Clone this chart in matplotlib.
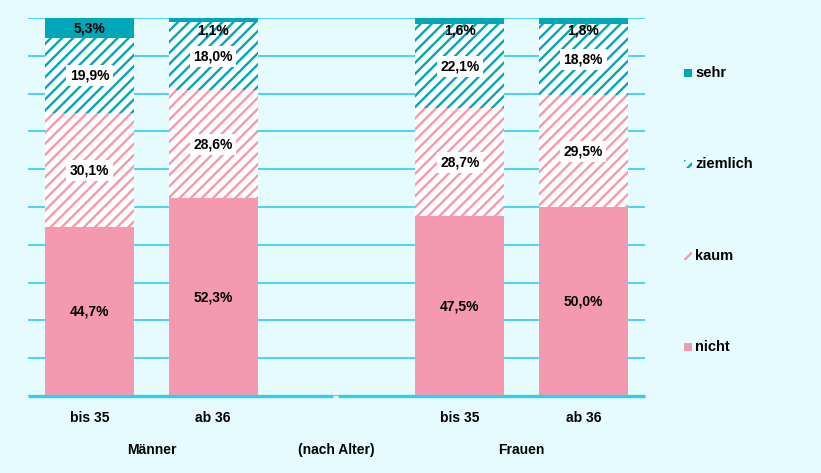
import matplotlib
matplotlib.use("Agg")
import matplotlib.pyplot as plt
from matplotlib.patches import Rectangle
import numpy as np

plt.rcParams['font.family'] = ['Liberation Sans', 'DejaVu Sans']
plt.rcParams['hatch.linewidth'] = 1.7

# ---- data ----
categories = ["bis 35", "ab 36", "", "bis 35", "ab 36"]
groups = ["Männer", "(nach Alter)", "Frauen"]
series = ["nicht", "kaum", "ziemlich", "sehr"]
nicht = [44.7, 52.3, np.nan, 47.5, 50.0]
kaum = [30.1, 28.6, np.nan, 28.7, 29.5]
ziemlich = [19.9, 18.0, np.nan, 22.1, 18.8]
sehr = [5.3, 1.1, np.nan, 1.6, 1.8]

PINK = "#F599B0"
TEAL = "#00A7B8"
BG = "#E6FBFD"
GRID = "#33CCF5"

fig = plt.figure(figsize=(8.21, 4.73), dpi=100)
fig.patch.set_facecolor(BG)
ax = fig.add_axes([28/821, 1-396/473, 617/821, 378/473])
ax.set_facecolor(BG)

x = np.arange(len(categories))
w = 0.72
vals = [nicht, kaum, ziemlich, sehr]
styles = [
    dict(color=PINK, hatch=None, fc=PINK),
    dict(color=PINK, hatch="///", fc="white"),
    dict(color=TEAL, hatch="///", fc="white"),
    dict(color=TEAL, hatch=None, fc=TEAL),
]
bottom = np.zeros(len(categories))
for v, st, name in zip(vals, styles, series):
    v = np.array(v, dtype=float)
    vv = np.nan_to_num(v)
    ax.bar(x, vv, w, bottom=bottom, facecolor=st['fc'], edgecolor=st['color'],
           hatch=st['hatch'], linewidth=0, zorder=3)
    for xi, val, b in zip(x, v, bottom):
        if np.isnan(val):
            continue
        txt = f"{val:.1f}%".replace(".", ",")
        if name == "sehr" and val < 3:
            y = 100 - 3.2
            bbox = None
        else:
            y = b + val / 2
            bbox = dict(boxstyle="square,pad=0.25", fc="white", ec="none") if name in ("kaum", "ziemlich") else None
        ax.text(xi, y, txt, ha="center", va="center", fontsize=10, fontweight="bold",
                bbox=bbox, zorder=5)
    bottom = bottom + vv

ax.set_xlim(-0.5, len(categories) - 0.5)
ax.set_ylim(0, 100)
ax.set_yticks(np.arange(0, 101, 10))
ax.yaxis.grid(True, color=GRID, linewidth=1.2, zorder=0)
ax.set_axisbelow(True)
ax.tick_params(axis="y", length=0, labelleft=False)
ax.tick_params(axis="x", length=0, pad=11)
for s in ax.spines.values():
    s.set_visible(False)
ax.set_xticks(x)
ax.set_xticklabels(categories, fontsize=10, fontweight="bold")

# broken baseline
tr = ax.get_xaxis_transform()
ax.plot([-0.5, 1.97], [0, 0], color=GRID, lw=2.4, transform=tr, clip_on=False, zorder=4, solid_capstyle="butt")
ax.plot([2.015, 4.5], [0, 0], color=GRID, lw=2.4, transform=tr, clip_on=False, zorder=4, solid_capstyle="butt")

# group labels
gpos = [0.5, 2.0, 3.5]
for gp, g in zip(gpos, groups):
    ax.text(gp, -0.143, g, transform=tr, ha="center", va="center", fontsize=10, fontweight="bold")

# legend (manual)
leg_y = [73, 164, 256, 347]
leg_styles = [styles[3], styles[2], styles[1], styles[0]]
for yy, name, st in zip(leg_y, series[::-1], leg_styles):
    fy = 1 - yy / 473
    r = Rectangle((684/821, fy - 4/473), 8/821, 8/473, transform=fig.transFigure,
                  facecolor=st['fc'] if st['hatch'] is None else BG, edgecolor=st['color'],
                  hatch=st['hatch'], linewidth=0)
    fig.patches.append(r)
    fig.text(695/821, fy, name, ha="left", va="center", fontsize=10.5, fontweight="bold")

fig.savefig("out.png", dpi=100, facecolor=BG)
